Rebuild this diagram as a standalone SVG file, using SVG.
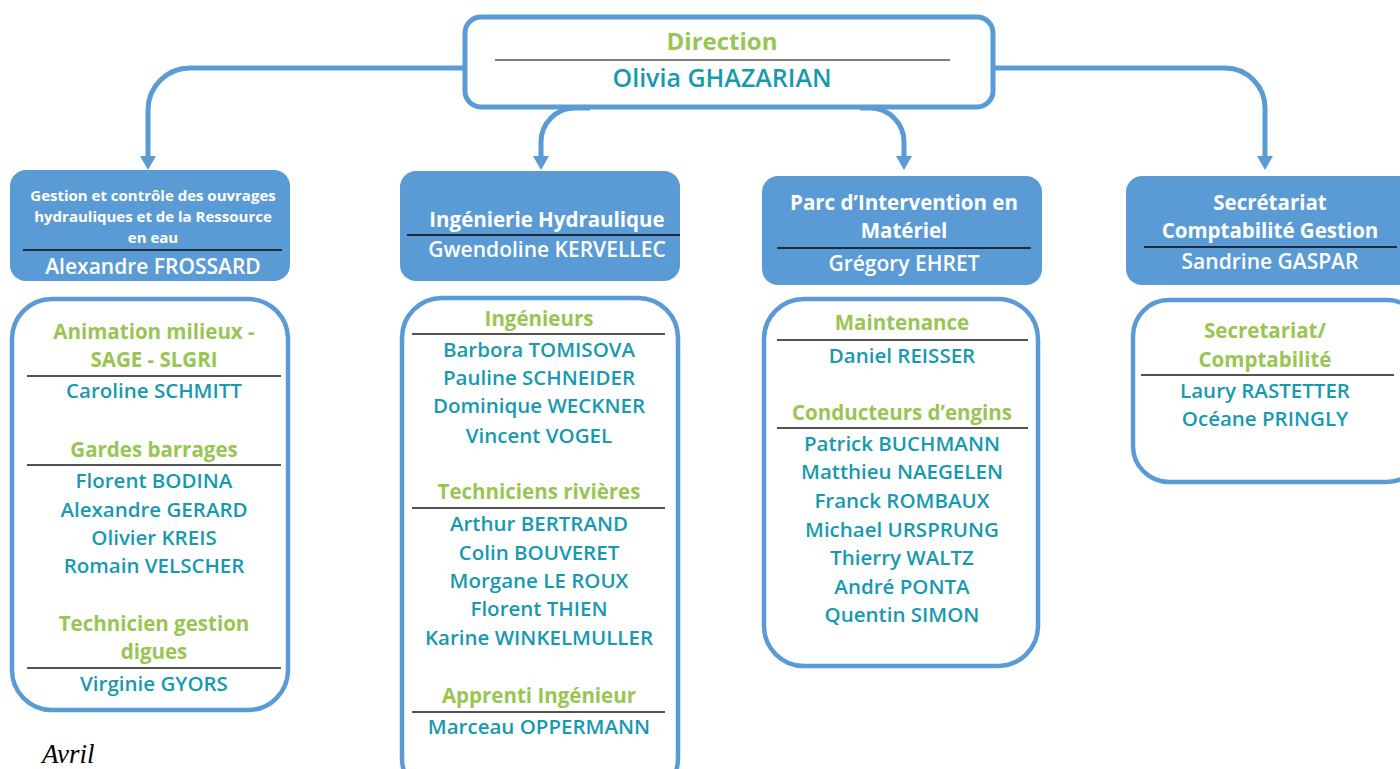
<svg xmlns="http://www.w3.org/2000/svg" width="1400" height="769" viewBox="0 0 1400 769">
<defs>
<style>
.conn{fill:none;stroke:#5B9BD5;stroke-width:5}
.arr{fill:#5B9BD5}
.hbox{fill:#5B9BD5;stroke:none}
.bbox{fill:#fff;stroke:#5B9BD5;stroke-width:4.5}
.sep{stroke:#1a1a1a;stroke-width:1.3}
.hsep{stroke:#1d2b3a;stroke-width:2}
text{font-family:"Open Sans","Noto Sans",sans-serif;text-anchor:middle}
.grp{fill:#98C553;font-weight:bold;font-size:20.5px}
.nm{fill:#1799B0;font-size:20.5px;font-weight:600}
.hw{fill:#fff;font-weight:bold;font-size:20.5px}
.hs{fill:#fff;font-weight:bold;font-size:15px}
.hn{fill:#fff;font-size:21px;font-weight:600}
</style>
</defs>
<rect width="1400" height="769" fill="#fff"/>
<g id="connectors">
<path class="conn" d="M465 68 H190 A42 42 0 0 0 148 110 V157"/>
<polygon class="arr" points="140,156 156,156 148,170"/>
<path class="conn" d="M590 108 H575 A34 34 0 0 0 541 142 V157"/>
<polygon class="arr" points="533,156 549,156 541,170"/>
<path class="conn" d="M860 108 H870 A34 34 0 0 1 904 142 V157"/>
<polygon class="arr" points="896,156 912,156 904,170"/>
<path class="conn" d="M993 68 H1225 A40 40 0 0 1 1265 108 V157"/>
<polygon class="arr" points="1257,156 1273,156 1265,170"/>
</g>
<g id="direction">
<rect x="465" y="17" width="528" height="90" rx="16" fill="#fff" stroke="#5B9BD5" stroke-width="5"/>
<text class="grp" x="722" y="50" style="font-size:24px">Direction</text>
<line x1="495" y1="60" x2="950" y2="60" stroke="#555" stroke-width="1.5"/>
<text class="nm" x="722" y="87" style="font-size:25px">Olivia GHAZARIAN</text>
</g>
<g id="head1">
<rect class="hbox" x="10" y="170" width="280" height="111" rx="16"/>
<text class="hs" x="153" y="201">Gestion et contrôle des ouvrages</text>
<text class="hs" x="153" y="222">hydrauliques et de la Ressource</text>
<text class="hs" x="153" y="243">en eau</text>
<line class="hsep" x1="23" y1="250" x2="282" y2="250"/>
<text class="hn" x="153" y="274">Alexandre FROSSARD</text>
</g>
<g id="head2">
<rect class="hbox" x="400" y="171" width="280" height="110" rx="16"/>
<text class="hw" x="547" y="227">Ingénierie Hydraulique</text>
<line class="hsep" x1="407" y1="235" x2="680" y2="235"/>
<text class="hn" x="547" y="257">Gwendoline KERVELLEC</text>
</g>
<g id="head3">
<rect class="hbox" x="762" y="176" width="280" height="109" rx="16"/>
<text class="hw" x="904" y="210">Parc d’Intervention en</text>
<text class="hw" x="904" y="238">Matériel</text>
<line class="hsep" x1="777" y1="248" x2="1031" y2="248"/>
<text class="hn" x="904" y="271">Grégory EHRET</text>
</g>
<g id="head4">
<rect class="hbox" x="1126" y="176" width="290" height="109" rx="16"/>
<text class="hw" x="1270" y="210">Secrétariat</text>
<text class="hw" x="1270" y="238">Comptabilité Gestion</text>
<line class="hsep" x1="1144" y1="247" x2="1397" y2="247"/>
<text class="hn" x="1270" y="269">Sandrine GASPAR</text>
</g>
<g id="body1">
<rect class="bbox" x="12" y="299" width="276" height="411" rx="40"/>
<text class="grp" x="154" y="339">Animation milieux -</text>
<text class="grp" x="154" y="367">SAGE - SLGRI</text>
<line class="sep" x1="27" y1="376" x2="281" y2="376"/>
<text class="nm" x="154" y="398">Caroline SCHMITT</text>
<text class="grp" x="154" y="457">Gardes barrages</text>
<line class="sep" x1="27" y1="465" x2="281" y2="465"/>
<text class="nm" x="154" y="488">Florent BODINA</text>
<text class="nm" x="154" y="517">Alexandre GERARD</text>
<text class="nm" x="154" y="545">Olivier KREIS</text>
<text class="nm" x="154" y="573">Romain VELSCHER</text>
<text class="grp" x="154" y="631">Technicien gestion</text>
<text class="grp" x="154" y="659">digues</text>
<line class="sep" x1="27" y1="668" x2="281" y2="668"/>
<text class="nm" x="154" y="691">Virginie GYORS</text>
</g>
<g id="body2">
<rect class="bbox" x="402" y="298" width="276" height="500" rx="40"/>
<text class="grp" x="539" y="326">Ingénieurs</text>
<line class="sep" x1="412" y1="334" x2="665" y2="334"/>
<text class="nm" x="539" y="357">Barbora TOMISOVA</text>
<text class="nm" x="539" y="385">Pauline SCHNEIDER</text>
<text class="nm" x="539" y="413">Dominique WECKNER</text>
<text class="nm" x="539" y="443">Vincent VOGEL</text>
<text class="grp" x="539" y="499">Techniciens rivières</text>
<line class="sep" x1="412" y1="508" x2="665" y2="508"/>
<text class="nm" x="539" y="531">Arthur BERTRAND</text>
<text class="nm" x="539" y="560">Colin BOUVERET</text>
<text class="nm" x="539" y="588">Morgane LE ROUX</text>
<text class="nm" x="539" y="616">Florent THIEN</text>
<text class="nm" x="539" y="645">Karine WINKELMULLER</text>
<text class="grp" x="539" y="703">Apprenti Ingénieur</text>
<line class="sep" x1="412" y1="712" x2="665" y2="712"/>
<text class="nm" x="539" y="734">Marceau OPPERMANN</text>
</g>
<g id="body3">
<rect class="bbox" x="764" y="299" width="274" height="367" rx="40"/>
<text class="grp" x="902" y="330">Maintenance</text>
<line class="sep" x1="777" y1="340" x2="1028" y2="340"/>
<text class="nm" x="902" y="363">Daniel REISSER</text>
<text class="grp" x="902" y="420">Conducteurs d’engins</text>
<line class="sep" x1="777" y1="428" x2="1028" y2="428"/>
<text class="nm" x="902" y="451">Patrick BUCHMANN</text>
<text class="nm" x="902" y="479">Matthieu NAEGELEN</text>
<text class="nm" x="902" y="508">Franck ROMBAUX</text>
<text class="nm" x="902" y="537">Michael URSPRUNG</text>
<text class="nm" x="902" y="565">Thierry WALTZ</text>
<text class="nm" x="902" y="594">André PONTA</text>
<text class="nm" x="902" y="622">Quentin SIMON</text>
</g>
<g id="body4">
<rect class="bbox" x="1133" y="300" width="290" height="182" rx="36"/>
<text class="grp" x="1265" y="338">Secretariat/</text>
<text class="grp" x="1265" y="367">Comptabilité</text>
<line class="sep" x1="1141" y1="375" x2="1394" y2="375"/>
<text class="nm" x="1265" y="398">Laury RASTETTER</text>
<text class="nm" x="1265" y="426">Océane PRINGLY</text>
</g>
<text x="42" y="763" style="font-family:'Liberation Serif',serif;font-style:italic;font-size:27px;text-anchor:start;fill:#000">Avril</text>
</svg>
